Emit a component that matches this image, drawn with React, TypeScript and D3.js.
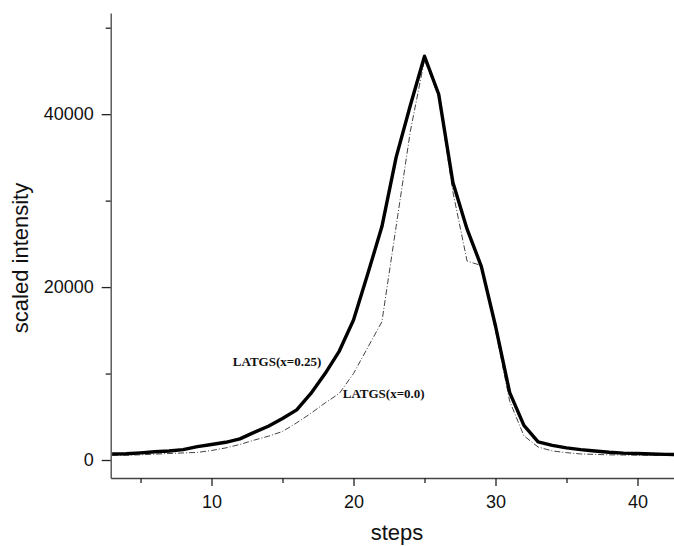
import React, { useEffect, useRef } from 'react';
import * as d3 from 'd3';

// scan steps (x axis)
const steps = [3, 4, 5, 6, 7, 8, 9, 10, 11, 12, 13, 14, 15, 16, 17, 18, 19, 20, 21, 22, 23,
  24, 25, 26, 27, 28, 29, 30, 31, 32, 33, 34, 35, 36, 37, 38, 39, 40, 41, 42, 43];

// LATGS(x=0.25) - thick solid line
const latgs025 = [700, 720, 830, 950, 1050, 1200, 1550, 1800, 2050, 2450, 3200, 3900, 4800,
  5800, 7700, 10000, 12600, 16200, 21500, 27000, 35000, 41000, 46700, 42300, 32100, 26700,
  22400, 15500, 7800, 4000, 2100, 1700, 1400, 1200, 1050, 900, 800, 750, 700, 650, 620];

// LATGS(x=0.0) - thin dashed line
const latgs000 = [550, 560, 600, 680, 750, 820, 880, 1100, 1400, 1800, 2300, 2750, 3300,
  4300, 5400, 6600, 7700, 10000, 13000, 16000, 27000, 38000, 46300, 42000, 31000, 23000,
  22500, 15000, 6800, 2800, 1500, 1050, 850, 700, 650, 600, 580, 560, 550, 540, 530];

const xMajor = [10, 20, 30, 40];
const xMinor = [5, 15, 25, 35];
const yMajor = [0, 20000, 40000];
const yMinor = [10000, 30000, 50000];

const W = 674;
const H = 546;

const x = d3.scaleLinear().domain([2.9, 43]).range([110.7, 680.1]);
const y = d3.scaleLinear().domain([-2080, 51700]).range([478, 13]);

const App = () => {
  const xRef = useRef<SVGGElement>(null);
  const xMinRef = useRef<SVGGElement>(null);
  const yRef = useRef<SVGGElement>(null);
  const yMinRef = useRef<SVGGElement>(null);

  useEffect(() => {
    const style = (g: any) => {
      g.select('.domain').attr('stroke', '#444').attr('stroke-width', 1.3);
      g.selectAll('.tick line').attr('stroke', '#222').attr('stroke-width', 1.3);
      g.selectAll('.tick text')
        .attr('fill', '#111')
        .style('font-family', 'Liberation Sans, Arial, sans-serif')
        .style('font-size', '18px');
    };
    d3.select(xRef.current)
      .call(d3.axisBottom(x).tickValues(xMajor).tickSize(8).tickPadding(9).tickSizeOuter(0).tickFormat(d3.format('d')) as any)
      .call(style);
    d3.select(xMinRef.current)
      .call(d3.axisBottom(x).tickValues(xMinor).tickSize(5).tickFormat(() => '') as any)
      .call((g: any) => g.select('.domain').remove())
      .call(style);
    d3.select(yRef.current)
      .call(d3.axisLeft(y).tickValues(yMajor).tickSize(9).tickPadding(8).tickSizeOuter(0).tickFormat(d3.format('d')) as any)
      .call(style);
    d3.select(yMinRef.current)
      .call(d3.axisLeft(y).tickValues(yMinor).tickSize(5).tickFormat(() => '') as any)
      .call((g: any) => g.select('.domain').remove())
      .call(style);
  }, []);

  const line = d3
    .line<number>()
    .x((_, i) => x(steps[i]))
    .y((d) => y(d));

  return (
    <svg
      width={W}
      height={H}
      style={{ position: 'absolute', left: 0, top: 0, background: '#fff', display: 'block' }}
    >
      <defs>
        <clipPath id="plot">
          <rect x={x(2.9)} y={0} width={W - x(2.9)} height={y(-2080)} />
        </clipPath>
      </defs>
      <g clipPath="url(#plot)">
        <path d={line(latgs000) || ''} fill="none" stroke="#444" strokeWidth={1} strokeDasharray="6,2,1,2" />
        <path d={line(latgs025) || ''} fill="none" stroke="#000" strokeWidth={3.4} strokeLinejoin="round" />
      </g>
      <g ref={xRef} transform={`translate(0,${y(-2080)})`} />
      <g ref={xMinRef} transform={`translate(0,${y(-2080)})`} />
      <g ref={yRef} transform={`translate(${x(2.9)},0)`} />
      <g ref={yMinRef} transform={`translate(${x(2.9)},0)`} />

      <text
        x={x(11.5)}
        y={y(10925)}
        fontFamily="Liberation Serif, Times New Roman, serif"
        fontWeight="bold"
        fontSize={13}
        fill="#111"
      >
        LATGS(x=0.25)
      </text>
      <text
        x={x(19.24)}
        y={y(7225)}
        fontFamily="Liberation Serif, Times New Roman, serif"
        fontWeight="bold"
        fontSize={13}
        fill="#111"
      >
        LATGS(x=0.0)
      </text>

      <text
        x={397}
        y={540}
        textAnchor="middle"
        fontFamily="Liberation Sans, Arial, sans-serif"
        fontSize={22}
        fill="#111"
      >
        steps
      </text>
      <text
        transform="translate(28,258) rotate(-90)"
        textAnchor="middle"
        fontFamily="Liberation Sans, Arial, sans-serif"
        fontSize={22}
        fill="#111"
      >
        scaled intensity
      </text>
    </svg>
  );
};

export default App;
